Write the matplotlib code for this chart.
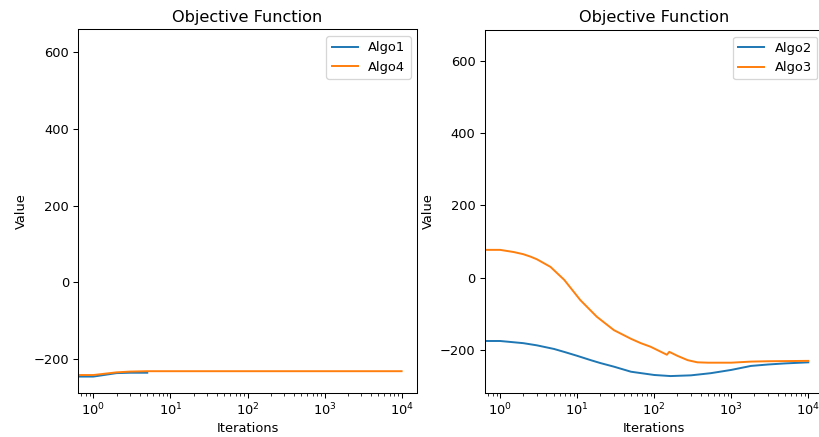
import matplotlib
matplotlib.use("Agg")
import matplotlib.pyplot as plt

# Left panel
x_algo1 = [0, 1, 2, 3, 4, 5]
y_algo1 = [-245, -245, -236, -235, -235, -235]
x_algo4 = [0, 1, 2, 3, 5, 10, 100, 1000, 10000]
y_algo4 = [-241, -241, -234, -232, -231, -231, -231, -231, -231]

# Right panel
x_algo2 = [0, 1, 2, 3, 5, 7, 10, 15, 20, 30, 50, 100, 163, 300, 543, 1000, 1800, 3000, 5000, 10000]
y_algo2 = [-175, -175, -181, -187, -197, -206, -216, -228, -236, -246, -260, -269, -272, -270, -264,
           -255, -244, -240, -237, -234]
x_algo3 = [0, 1, 1.5, 2, 2.5, 3, 4.5, 6.8, 11, 18, 30, 50, 67, 90, 146, 157, 200, 272, 363, 500, 1000,
           1800, 3000, 10000]
y_algo3 = [77, 77, 71, 65, 58, 51, 30, -6, -62, -108, -145, -169, -181, -191, -213, -205, -216, -228,
           -234, -235, -235, -232, -231, -230]

DPI = 93.6
fig = plt.figure(figsize=(819 / DPI, 437 / DPI), dpi=DPI)
W, H = 819, 437
ax1 = fig.add_axes([78 / W, (H - 392.7) / H, 339 / W, 363.3 / H])
ax2 = fig.add_axes([484.7 / W, (H - 392.7) / H, 339 / W, 362.7 / H])

ax1.plot(x_algo1, y_algo1, label="Algo1")
ax1.plot(x_algo4, y_algo4, label="Algo4")
ax2.plot(x_algo2, y_algo2, label="Algo2")
ax2.plot(x_algo3, y_algo3, label="Algo3")

for ax in (ax1, ax2):
    ax.set_xscale("log")
    ax.set_title("Objective Function", fontsize=12.4)
    ax.set_xlabel("Iterations", labelpad=2.5)
    ax.set_ylabel("Value")
    ax.legend(loc="upper right")
    ax.set_yticks([-200, 0, 200, 400, 600])

ax1.set_ylim(-287, 659)
ax2.set_ylim(-318, 685)

fig.savefig("out.png", dpi=DPI)
